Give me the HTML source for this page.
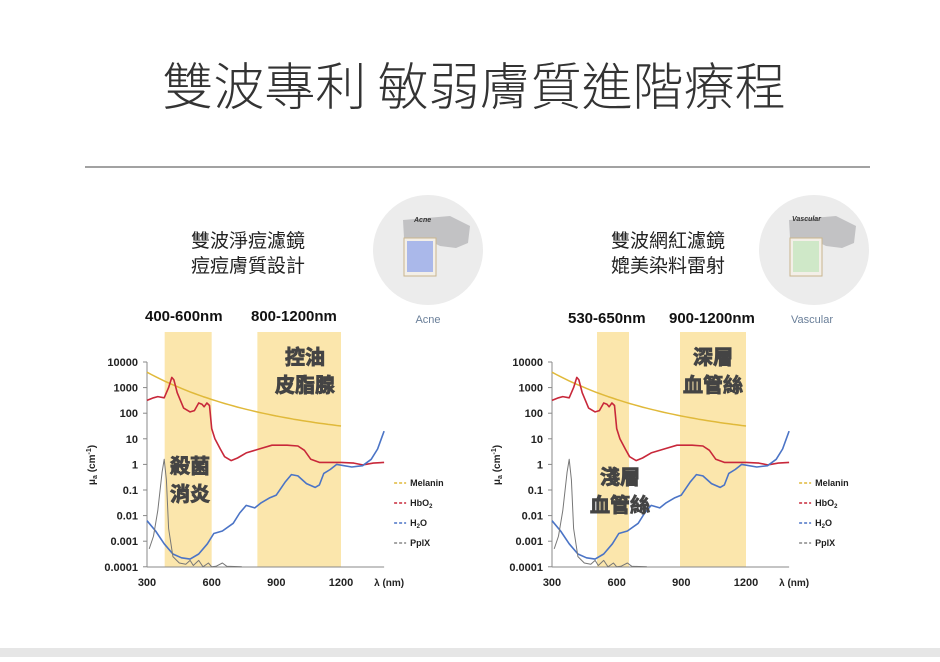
<!DOCTYPE html>
<html><head><meta charset="utf-8">
<style>
html,body{margin:0;padding:0;background:#fff;}
body{width:940px;height:657px;overflow:hidden;font-family:"Liberation Sans","Noto Sans CJK TC",sans-serif;}
</style></head>
<body>
<svg id="s" width="940" height="657" xmlns="http://www.w3.org/2000/svg" font-family="Liberation Sans, Noto Sans CJK TC, sans-serif">
<rect x="0" y="648" width="940" height="9" fill="#e6e6e6"/>
<text x="474" y="105" text-anchor="middle" font-size="51" fill="#333" font-family="Noto Sans CJK TC, sans-serif" font-weight="300">雙波專利 敏弱膚質進階療程</text>
<line x1="85" y1="167" x2="870" y2="167" stroke="#444" stroke-width="1"/>
<g font-size="19" fill="#222" text-anchor="middle" font-family="Noto Sans CJK TC, sans-serif">
<text x="248" y="247">雙波淨痘濾鏡</text><text x="248" y="272">痘痘膚質設計</text>
<text x="668" y="247">雙波網紅濾鏡</text><text x="668" y="272">媲美染料雷射</text>
</g>
<circle cx="428" cy="250" r="55" fill="#ececec"/>
<circle cx="814" cy="250" r="55" fill="#ececec"/>
<g>
<path d="M403 220 L450 216 L470 226 L468 243 L456 248 L440 246 L430 241 L404 238 Z" fill="#c2c2c4"/>
<rect x="404" y="238" width="32" height="38" fill="#f3efe8" stroke="#c9b58e" stroke-width="1"/>
<rect x="407" y="241" width="26" height="31" fill="#aab8ea"/>
<text x="414" y="222" font-size="7" font-weight="bold" fill="#333" font-style="italic">Acne</text>
<path d="M789 220 L836 216 L856 226 L854 243 L842 248 L826 246 L816 241 L790 238 Z" fill="#c2c2c4"/>
<rect x="790" y="238" width="32" height="38" fill="#f3efe8" stroke="#c9b58e" stroke-width="1"/>
<rect x="793" y="241" width="26" height="31" fill="#cfe8c8"/>
<text x="792" y="221" font-size="7" font-weight="bold" fill="#333" font-style="italic">Vascular</text>
</g>
<text x="428" y="323" font-size="11" fill="#6a7f99" text-anchor="middle">Acne</text>
<text x="812" y="323" font-size="11" fill="#6a7f99" text-anchor="middle">Vascular</text>
<g font-size="15" font-weight="bold" fill="#111">
<text x="145" y="321">400-600nm</text><text x="251" y="321">800-1200nm</text>
<text x="568" y="323">530-650nm</text><text x="669" y="323">900-1200nm</text>
</g>
<g id="c1"></g><g id="c2"></g>
</svg>
<script>
function build(gid,x0,x1200,bands,labels){
 var g=document.getElementById(gid),h="";
 var k=(x1200-x0)/900;
 function X(n){return x0+(n-300)*k;}
 function Y(l){return 362+(4-l)*25.6;}
 bands.forEach(function(b){h+='<rect x="'+X(b[0])+'" y="332" width="'+(X(b[1])-X(b[0]))+'" height="235" fill="#fbe3a3" opacity="0.9"/>';});
 for(var i=0;i<=8;i++){var y=Y(4-i);h+='<line x1="'+(x0-4)+'" y1="'+y+'" x2="'+x0+'" y2="'+y+'" stroke="#888"/>';
  var lab=["10000","1000","100","10","1","0.1","0.01","0.001","0.0001"][i];
  h+='<text x="'+(x0-9)+'" y="'+(y+4)+'" font-size="11" font-weight="bold" text-anchor="end" fill="#222">'+lab+'</text>';}
 h+='<line x1="'+x0+'" y1="362" x2="'+x0+'" y2="567" stroke="#888"/>';
 h+='<line x1="'+x0+'" y1="567" x2="'+X(1400)+'" y2="567" stroke="#888"/>';
 [300,600,900,1200].forEach(function(n){h+='<text x="'+X(n)+'" y="586" font-size="11" font-weight="bold" text-anchor="middle" fill="#222">'+n+'</text>';});
 h+='<text x="'+(X(1400)-10)+'" y="586" font-size="10" font-weight="bold" fill="#222">λ (nm)</text>';
 h+='<text transform="translate('+(x0-52)+',465) rotate(-90)" font-size="10" font-weight="bold" text-anchor="middle" fill="#222">μ<tspan font-size="7" dy="2">a</tspan><tspan dy="-2"> (cm</tspan><tspan font-size="7" dy="-4">-1</tspan><tspan dy="4">)</tspan></text>';
 function P(d,c,w){var s="";d.forEach(function(p,i){s+=(i?"L":"M")+X(p[0]).toFixed(1)+" "+Y(p[1]).toFixed(1);});h+='<path d="'+s+'" fill="none" stroke="'+c+'" stroke-width="'+w+'" stroke-linejoin="round"/>';}
 var mel=[];for(var n=300;n<=1200;n+=20){mel.push([n,3.6-2.1*(1-Math.exp(-(n-300)/600))/(1-Math.exp(-1.5))]);}
 P(mel,"#e0b93a",1.5);
 P([[300,2.5],[330,2.6],[350,2.65],[380,2.6],[400,3.0],[415,3.4],[425,3.3],[440,2.8],[470,2.2],[500,2.05],[520,2.1],[540,2.4],[555,2.35],[565,2.25],[578,2.4],[590,2.3],[600,1.4],[615,1.0],[640,0.6],[660,0.3],[690,0.15],[720,0.25],[760,0.45],[820,0.6],[880,0.75],[950,0.75],[1000,0.72],[1030,0.55],[1060,0.2],[1100,0.08],[1200,0.08],[1260,0.05],[1300,-0.02],[1350,0.05],[1400,0.08]],"#c8283a",1.6);
 P([[300,-2.2],[340,-2.6],[380,-3.1],[420,-3.5],[460,-3.65],[500,-3.7],[540,-3.5],[580,-3.1],[610,-2.7],[650,-2.6],[700,-2.3],[730,-1.9],[760,-1.6],[800,-1.7],[830,-1.5],[870,-1.3],[900,-1.2],[940,-0.7],[970,-0.4],[1000,-0.45],[1040,-0.75],[1080,-0.9],[1100,-0.8],[1120,-0.35],[1150,-0.2],[1180,0],[1250,-0.1],[1300,-0.05],[1340,0.2],[1370,0.6],[1400,1.3]],"#4b74c6",1.6);
 P([[310,-3.3],[330,-2.8],[350,-1.8],[370,-0.3],[380,0.2],[390,-0.6],[400,-2.5],[420,-3.6],[450,-3.85],[480,-3.9],[500,-3.75],[515,-3.95],[540,-3.75],[560,-4],[585,-3.85],[600,-4],[620,-3.98],[650,-3.85],[670,-3.98],[740,-4]],"#777",1);
 var ly=[483,503,523,543],lc=["#e0b93a","#c8283a","#4b74c6","#888"],lt=["Melanin","HbO<tspan font-size=\"6\" dy=\"2\">2</tspan>","H<tspan font-size=\"6\" dy=\"2\">2</tspan><tspan dy=\"-2\">O</tspan>","PpIX"];
 var lx=X(1400)+10;
 for(var i=0;i<4;i++){h+='<line x1="'+lx+'" y1="'+ly[i]+'" x2="'+(lx+12)+'" y2="'+ly[i]+'" stroke="'+lc[i]+'" stroke-width="1.5" stroke-dasharray="3,2"/>';
  h+='<text x="'+(lx+16)+'" y="'+(ly[i]+3)+'" font-size="9" font-weight="bold" fill="#222">'+lt[i]+'</text>';}
 labels.forEach(function(l){h+='<text x="'+l[0]+'" y="'+l[1]+'" font-size="20" font-weight="bold" text-anchor="middle" fill="#444" stroke="#444" stroke-width="0.9" font-family="Noto Sans CJK TC, sans-serif">'+l[2]+'</text>';});
 g.innerHTML=h;
}
build("c1",147,341,[[382,600],[812,1200]],[[305,364,"控油"],[305,392,"皮脂腺"],[190,473,"殺菌"],[190,501,"消炎"]]);
build("c2",552,746,[[(597-552)/194*900+300,(629-552)/194*900+300],[(680-552)/194*900+300,1200]],[[713,364,"深層"],[713,392,"血管絲"],[620,484,"淺層"],[620,512,"血管絲"]]);
</script>
</body></html>
